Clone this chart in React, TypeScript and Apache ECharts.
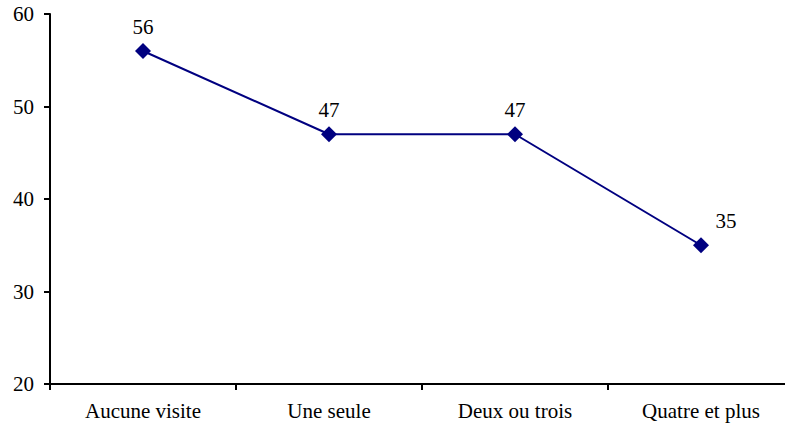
import React, { useEffect, useRef } from "react";
import * as echarts from "echarts";

const categories = ["Aucune visite", "Une seule", "Deux ou trois", "Quatre et plus"];
const values = [56, 47, 47, 35];
const yMin = 20;
const yMax = 60;
const yInterval = 10;

export default function App() {
  const ref = useRef<HTMLDivElement>(null);
  useEffect(() => {
    if (!ref.current) return;
    const chart = echarts.init(ref.current, null, { renderer: "svg" });
    const font = "'Liberation Serif', 'Times New Roman', serif";
    chart.setOption({
      animation: false,
      grid: { left: 50, top: 14, right: -9, bottom: 45, outerBoundsMode: "none", containLabel: false },
      xAxis: {
        type: "category",
        data: categories,
        boundaryGap: true,
        axisLine: { lineStyle: { color: "#000", width: 2 } },
        axisTick: { show: true, length: 6, lineStyle: { color: "#000", width: 2 }, alignWithLabel: false },
        axisLabel: { color: "#000", fontFamily: font, fontSize: 21, margin: 16 },
        splitLine: { show: false },
      },
      yAxis: {
        type: "value",
        min: yMin,
        max: yMax,
        interval: yInterval,
        axisLine: { show: true, lineStyle: { color: "#000", width: 2 } },
        axisTick: { show: true, length: 6, lineStyle: { color: "#000", width: 2 } },
        axisLabel: { color: "#000", fontFamily: font, fontSize: 21, margin: 16 },
        splitLine: { show: false },
      },
      series: [
        {
          type: "line",
          data: values.map((v, i) =>
            i === values.length - 1
              ? { value: v, label: { offset: [25, 0] } }
              : { value: v }
          ),
          symbol: "diamond",
          symbolSize: 16,
          lineStyle: { color: "#000080", width: 2 },
          itemStyle: { color: "#000080" },
          label: {
            show: true,
            position: "top",
            distance: 6,
            color: "#000",
            fontFamily: font,
            fontSize: 21,
          },
        },
      ],
    });
    return () => chart.dispose();
  }, []);
  return <div ref={ref} style={{ width: 785, height: 429, position: "absolute", left: 0, top: 0 }} />;
}
